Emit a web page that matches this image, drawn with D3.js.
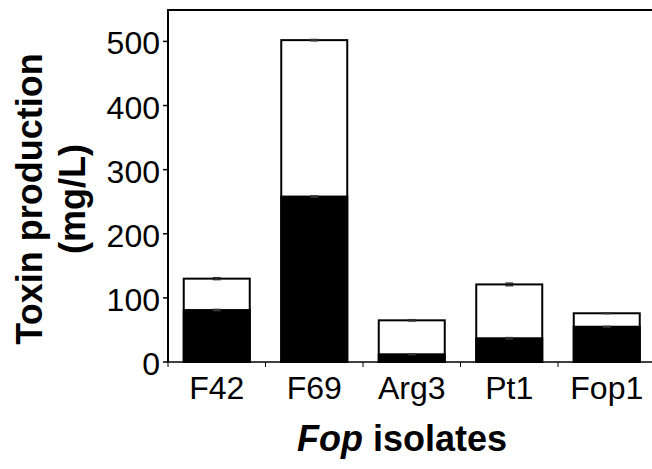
<!DOCTYPE html>
<html><head><meta charset="utf-8">
<script src="https://cdn.jsdelivr.net/npm/d3@7"></script>
<style>
html,body{margin:0;padding:0;background:#fff;}
svg{display:block;font-family:"Liberation Sans",Arial,sans-serif;}
</style></head>
<body>
<svg id="c" width="652" height="469"></svg>
<script>
const categories = ["F42", "F69", "Arg3", "Pt1", "Fop1"];
const totalValues = [130, 502, 65, 121, 76];
const totalErrors = [1.5, 1, 1, 2, 0.5];
const blackValues = [81, 258, 12, 37, 55];
const blackErrors = [1, 1, 0.5, 1, 0.5];
const yTicks = [0, 100, 200, 300, 400, 500];

(function () {
const svg = d3.select("#c");
const mLeft = 168, mTop = 10, mBottom = 362, mRight = 655.5;
const pad = 0.323;
const x = d3.scaleBand().domain(categories).range([mLeft, mRight]).paddingInner(pad).paddingOuter(pad / 2);
const y = d3.scaleLinear().domain([0, 549]).range([mBottom, mTop]);

const data = categories.map((c, i) => ({c, t: totalValues[i], te: totalErrors[i], b: blackValues[i], be: blackErrors[i]}));

svg.selectAll("rect.tot").data(data).join("rect").attr("class", "tot")
  .attr("x", d => x(d.c)).attr("y", d => y(d.t))
  .attr("width", x.bandwidth()).attr("height", d => y(0) - y(d.t))
  .attr("fill", "#fff").attr("stroke", "#000").attr("stroke-width", 2);
svg.selectAll("rect.blk").data(data).join("rect").attr("class", "blk")
  .attr("x", d => x(d.c)).attr("y", d => y(d.b))
  .attr("width", x.bandwidth()).attr("height", d => y(0) - y(d.b))
  .attr("fill", "#000").attr("stroke", "#000").attr("stroke-width", 2);

const cap = 8;
function errs(key, ekey) {
  const g = svg.append("g");
  data.forEach(d => {
    const cx = x(d.c) + x.bandwidth() / 2;
    g.append("line").attr("x1", cx).attr("x2", cx).attr("y1", y(d[key] + d[ekey])).attr("y2", y(d[key] - d[ekey])).attr("stroke", "#333").attr("stroke-width", 1);
    g.append("line").attr("x1", cx - cap / 2).attr("x2", cx + cap / 2).attr("y1", y(d[key] + d[ekey])).attr("y2", y(d[key] + d[ekey])).attr("stroke", "#333").attr("stroke-width", 1.5);
    g.append("line").attr("x1", cx - cap / 2).attr("x2", cx + cap / 2).attr("y1", y(d[key] - d[ekey])).attr("y2", y(d[key] - d[ekey])).attr("stroke", "#333").attr("stroke-width", 1.5);
  });
}
errs("t", "te");
errs("b", "be");

svg.append("line").attr("x1", mLeft).attr("x2", 660).attr("y1", mTop).attr("y2", mTop).attr("stroke", "#000").attr("stroke-width", 2);
svg.append("line").attr("x1", mLeft).attr("x2", mLeft).attr("y1", mTop - 1).attr("y2", mBottom).attr("stroke", "#000").attr("stroke-width", 2);
svg.append("line").attr("x1", mLeft - 1).attr("x2", 660).attr("y1", mBottom).attr("y2", mBottom).attr("stroke", "#000").attr("stroke-width", 1.5);

const yAxis = svg.append("g");
yTicks.forEach(v => {
  yAxis.append("line").attr("x1", mLeft - 5).attr("x2", mLeft).attr("y1", y(v)).attr("y2", y(v)).attr("stroke", "#000").attr("stroke-width", 1.5);
  yAxis.append("text").attr("x", mLeft - 8).attr("y", y(v) + 13).attr("text-anchor", "end").attr("font-size", 32).attr("fill", "#000").text(v);
});

const bounds = categories.map(c => x(c) - x.step() * pad / 2);
bounds.push(mRight);
bounds.forEach(b => {
  svg.append("line").attr("x1", b).attr("x2", b).attr("y1", mBottom).attr("y2", mBottom + 5).attr("stroke", "#000").attr("stroke-width", 1);
});
categories.forEach(c => {
  svg.append("text").attr("x", x(c) + x.bandwidth() / 2).attr("y", 399).attr("text-anchor", "middle").attr("font-size", 32).attr("fill", "#000").text(c);
});

const xt = svg.append("text").attr("x", 402).attr("y", 451).attr("text-anchor", "middle").attr("font-size", 36).attr("font-weight", "bold").attr("fill", "#000");
xt.append("tspan").attr("font-style", "italic").text("Fop");
xt.append("tspan").text(" isolates");

const yt = svg.append("g").attr("transform", "translate(0,199) rotate(-90)");
yt.append("text").attr("x", 0).attr("y", 42).attr("text-anchor", "middle").attr("font-size", 36).attr("font-weight", "bold").attr("fill", "#000").text("Toxin production");
yt.append("text").attr("x", 0).attr("y", 85).attr("text-anchor", "middle").attr("font-size", 36).attr("font-weight", "bold").attr("fill", "#000").text("(mg/L)");
})();
</script>
</body></html>
